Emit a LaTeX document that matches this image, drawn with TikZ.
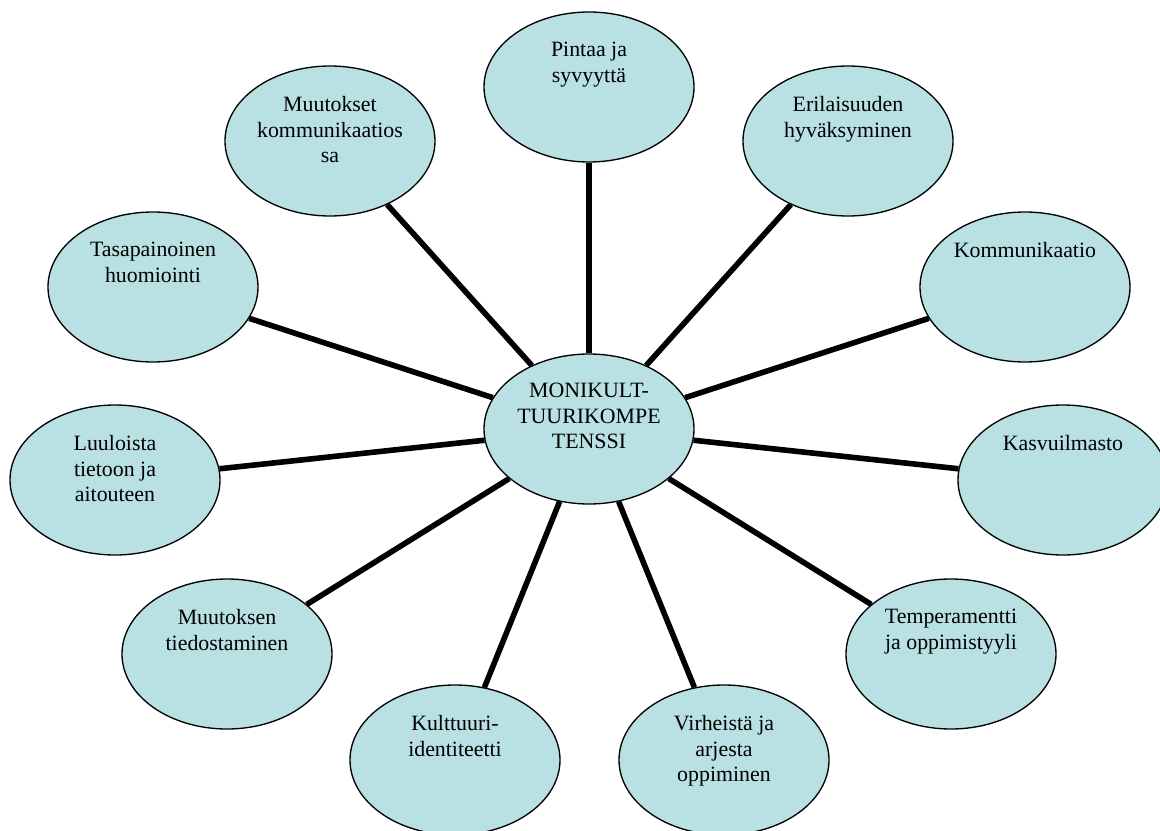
\documentclass[tikz,border=0pt]{standalone}
\usepackage{fontspec}
\setmainfont{Liberation Serif}
\usetikzlibrary{shapes.geometric}
\definecolor{bubfill}{RGB}{185,224,227}
\begin{document}
\begin{tikzpicture}[x=0.75pt,y=-0.75pt,
  bub/.style={ellipse, draw=black, line width=1pt, fill=bubfill,
    minimum width=157.5pt, minimum height=112.5pt, inner sep=0pt},
  lbl/.style={anchor=north, inner sep=0pt, align=center,
    font=\fontsize{16.4}{19.2}\selectfont},
  link/.style={line width=4.2pt}]
\useasboundingbox (0,0) rectangle (1160,831);
\clip (0,0) rectangle (1160,831);
% bubbles
\node[bub] (c)  at (589,429) {};
\node[bub] (n1) at (589,87)  {};
\node[bub] (n2) at (848,141) {};
\node[bub] (n3) at (1025,287) {};
\node[bub] (n4) at (1063,480) {};
\node[bub] (n5) at (951,654) {};
\node[bub] (n6) at (724,760) {};
\node[bub] (n7) at (455,760) {};
\node[bub] (n8) at (227,654) {};
\node[bub] (n9) at (115,480) {};
\node[bub] (n10) at (153,287) {};
\node[bub] (n11) at (330,141) {};
% connectors
\foreach \n in {n1,n2,n3,n4,n5,n6,n7,n8,n9,n10,n11}
  \draw[link] (c) -- (\n);
% labels
\node[lbl] (tc)  at (589,383) {MONIKULT-\\TUURIKOMPE\\TENSSI};
\node[lbl] (t1)  at (589,42)  {Pintaa ja\\syvyyttä};
\node[lbl] (t2)  at (848,96)  {Erilaisuuden\\hyväksyminen};
\node[lbl] (t3)  at (1025,242) {Kommunikaatio};
\node[lbl] (t4)  at (1063,435) {Kasvuilmasto};
\node[lbl] (t5)  at (951,609) {Temperamentti\\ja oppimistyyli};
\node[lbl] (t6)  at (724,715) {Virheistä ja\\arjesta\\oppiminen};
\node[lbl] (t7)  at (455,715) {Kulttuuri-\\identiteetti};
\node[lbl] (t8)  at (227,609) {Muutoksen\\tiedostaminen};
\node[lbl] (t9)  at (115,435) {Luuloista\\tietoon ja\\aitouteen};
\node[lbl] (t10) at (153,242) {Tasapainoinen\\huomiointi};
\node[lbl] (t11) at (330,96)  {Muutokset\\kommunikaatios\\sa};
\end{tikzpicture}
\end{document}
